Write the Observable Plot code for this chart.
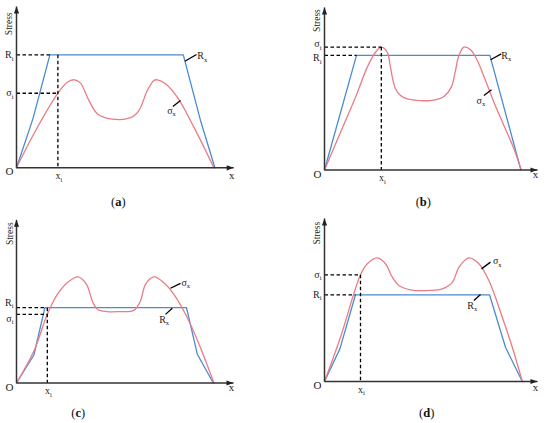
<!DOCTYPE html>
<html><head><meta charset="utf-8">
<script src="https://cdn.jsdelivr.net/npm/d3@7"></script>
<script src="https://cdn.jsdelivr.net/npm/@observablehq/plot@0.6"></script>
<style>
body{margin:0;background:#fff;}
#fig{position:relative;width:550px;height:423px;font-family:"Liberation Serif","DejaVu Serif",serif;color:#111;}
.panel{position:absolute;width:275px;height:211px;}
.cap{position:absolute;font-size:12.5px;transform:translate(-50%,-50%);white-space:nowrap;}
</style></head><body><div id="fig"></div>
<script>
// ---- data (arbitrary units: x = position along member, y = stress) ----
const panelNames = ["a", "b", "c", "d"];
// R_x (blue) resistance curves
const blueA = [[0,0],[8.2,30.6],[16.7,70.6],[83.4,70.6],[92,29.6],[99.2,0]];
const blueB = [[0,0],[16,71.6],[82.7,71.6],[98.2,0]];
const blueC = [[0,0],[8.7,17.5],[14.2,47.1],[85,47.1],[90.4,18],[98.4,0]];
const blueD = [[0,0],[7.7,20.4],[15.5,54.2],[82.5,54.2],[90.5,21.4],[98.9,0]];
// sigma_x (red) stress curves
const redA = [[0,0],[8.7,21.3],[20.7,46.6],[25.4,53.5],[29,55],[32,52.9],[36.2,42.1],[40.4,33.8],[47,30.6],[57,31.3],[61.2,35.8],[65.4,48.3],[68.7,54.6],[70.4,55],[74.5,52.5],[80.4,44.1],[88.7,25.4],[98.7,0]];
const redB = [[0,0],[8.4,24.7],[15.5,45.5],[21.4,64.3],[25.5,73.6],[28.4,76.8],[31.4,73.6],[32.7,66.4],[33.9,58],[35.5,50.8],[38,46.6],[41.4,44.5],[48,43.4],[53,43.4],[57.2,44.5],[59.7,45.9],[63.4,51.8],[65.5,62.2],[67.2,71.6],[69.7,76.8],[73,75.1],[76.4,68.4],[80.5,55.9],[84.7,42.4],[89.7,27.8],[94.7,13.3],[98.4,0]];
const redC = [[0,0],[8.7,20],[15.4,42.9],[20.4,55.4],[25.4,62.7],[30.7,66.3],[35,61.7],[37.9,51.3],[40.4,46.1],[45.4,44.6],[51.2,44.6],[58.7,45.4],[62,51.3],[64.5,61.7],[68.7,66.3],[73.7,62.7],[78.7,55.4],[85.4,40.8],[92,22.1],[98.7,0]];
const redD = [[0,0],[8,27.7],[18,66.7],[21.4,73.6],[26.4,77.3],[30.5,73.6],[33.9,65.2],[37.2,60],[43,57.3],[53,56.9],[58.9,57.9],[63.9,62],[67.2,71.4],[72.2,77.3],[77.2,73.6],[82.2,63.1],[88.9,40.2],[93.9,21.4],[98.9,0]];
// reference levels R_i, sigma_i and location x_i
const Rlevels = [70.6, 71.6, 47.1, 54.2];
const sigmaLevels = [46.6, 76.8, 42.9, 66.7];
const xiValues = [20.7, 28.4, 15.4, 18];
// labels ("_" marks a subscript)
const labelR = "R_i", labelSigma = "\u03C3_i", labelXi = "x_i";
const labelRx = "R_x", labelSx = "\u03C3_x";
const yTitle = "Stress", xTitle = "x", originLabel = "O";
// annotation anchors (data units): [textX, textY, leaderX1, leaderY1, leaderX2, leaderY2]
const rxNotes = [[92.9,69.8,84.2,66.6,90,70.8],[90.9,71.6,83,68.9,88.4,72.6],[73.8,39.8,74.5,42.9,77.9,46.7],[73.9,47.5,74.7,50.6,78,54.4]];
const sxNotes = [[77.5,35.8,78.2,38.3,82,42.1],[78.2,43.4,79.7,46.6,83.5,50.1],[84.6,62.7,77,59.2,82,62.3],[86.4,75.2,78.5,70.4,83,74.6]];

// ---- layout ----
const BLUE = "#4a8cd0", RED = "#ea7c84";
const FONT = "Liberation Serif, DejaVu Serif, serif";
const cells = [[0,0],[275,0],[0,211],[275,211]];
const origins = [[16,167.3],[49,169.5],[16,171.5],[49,170]];
const axisEnds = [[108.6,100.8],[106.5,101.6],[108.5,102],[106.5,101.9]];
const stressPos = [[-3.8,90],[-3.7,93.4],[-3.4,93.3],[-3.7,92.7]];
const xLabelDy = [8,4,4,6];
const labelDy = [[0,0],[2.5,-3],[-5,4],[0,0]];
const capPos = [[118.3,201.7],[148.3,201.7],[78.3,201.7],[151.7,201.7]];
const blues = [blueA, blueB, blueC, blueD];
const reds = [redA, redB, redC, redD];

const upTri = {draw(c){c.moveTo(0,0);c.lineTo(-2.6,7);c.lineTo(2.6,7);c.closePath();}};
const rightTri = {draw(c){c.moveTo(0,0);c.lineTo(-7,-2.6);c.lineTo(-7,2.6);c.closePath();}};

function subscripts(svg) {
  const ns = "http://www.w3.org/2000/svg";
  svg.querySelectorAll("text").forEach(t => {
    const s = t.textContent;
    if (!s.includes("_")) return;
    const [base, sub] = s.split("_");
    while (t.firstChild) t.removeChild(t.firstChild);
    const tb = document.createElementNS(ns, "tspan");
    tb.textContent = base;
    const ts = document.createElementNS(ns, "tspan");
    ts.setAttribute("font-size", "6.5");
    ts.setAttribute("dy", "2.5");
    ts.textContent = sub;
    t.appendChild(tb);
    t.appendChild(ts);
  });
  return svg;
}

const fig = document.getElementById("fig");
panelNames.forEach((name, i) => {
  const [ox, oy] = origins[i];
  const [xmax, ymax] = axisEnds[i];
  const Ri = Rlevels[i], si = sigmaLevels[i], xi = xiValues[i];
  const corner = blues[i].find(d => d[1] >= Ri)[0];
  const dashed = [
    {x1: 0, y1: Ri, x2: corner, y2: Ri},
    {x1: 0, y1: si, x2: xi, y2: si},
    {x1: xi, y1: Math.max(Ri, si), x2: xi, y2: 0}
  ];
  const axes = [{x1: 0, y1: 0, x2: xmax, y2: 0}, {x1: 0, y1: 0, x2: 0, y2: ymax}];
  const rx = rxNotes[i], sx = sxNotes[i];
  const leaders = [{x1: rx[2], y1: rx[3], x2: rx[4], y2: rx[5]}, {x1: sx[2], y1: sx[3], x2: sx[4], y2: sx[5]}];
  const txt = {fill: "#222", fontSize: 10};
  const svg = Plot.plot({
    width: 275, height: 190,
    x: {domain: [0, 110], range: [ox, ox + 220], axis: null},
    y: {domain: [0, 100], range: [oy, oy - 160], axis: null},
    style: {fontFamily: FONT, fontSize: "10px", background: "transparent", overflow: "visible"},
    marks: [
      Plot.line(blues[i], {x: d => d[0], y: d => d[1], stroke: BLUE, strokeWidth: 1.3}),
      Plot.line(reds[i], {x: d => d[0], y: d => d[1], stroke: RED, strokeWidth: 1.3, curve: "catmull-rom"}),
      Plot.link(dashed, {x1: "x1", y1: "y1", x2: "x2", y2: "y2", stroke: "#000", strokeWidth: 1.3, strokeDasharray: "3.5,2.5"}),
      Plot.link(leaders, {x1: "x1", y1: "y1", x2: "x2", y2: "y2", stroke: "#000", strokeWidth: 1.3}),
      Plot.link(axes, {x1: "x1", y1: "y1", x2: "x2", y2: "y2", stroke: "#333", strokeWidth: 1.5}),
      Plot.dot([[xmax, 0]], {x: d => d[0], y: d => d[1], symbol: rightTri, fill: "#222", stroke: "none"}),
      Plot.dot([[0, ymax]], {x: d => d[0], y: d => d[1], symbol: upTri, fill: "#222", stroke: "none"}),
      Plot.text([labelR], {...txt, x: 0, y: Ri, text: d => d, textAnchor: "end", dx: -3, dy: labelDy[i][0]}),
      Plot.text([labelSigma], {...txt, x: 0, y: si, text: d => d, textAnchor: "end", dx: -3, dy: labelDy[i][1]}),
      Plot.text([yTitle], {...txt, x: stressPos[i][0], y: stressPos[i][1], text: d => d, rotate: -90, fontSize: 9.5}),
      Plot.text([originLabel], {...txt, x: 0, y: 0, text: d => d, dx: -7, dy: 4, fontSize: 11}),
      Plot.text([labelXi], {...txt, x: xi, y: 0, text: d => d, dy: 8, dx: 1}),
      Plot.text([xTitle], {...txt, x: xmax - 1, y: 0, text: d => d, dy: xLabelDy[i], fontSize: 11}),
      Plot.text([labelRx], {...txt, x: rx[0], y: rx[1], text: d => d}),
      Plot.text([labelSx], {...txt, x: sx[0], y: sx[1], text: d => d})
    ]
  });
  subscripts(svg);
  const div = document.createElement("div");
  div.className = "panel";
  div.style.left = cells[i][0] + "px";
  div.style.top = cells[i][1] + "px";
  div.appendChild(svg);
  const cap = document.createElement("div");
  cap.className = "cap";
  cap.style.left = capPos[i][0] + "px";
  cap.style.top = capPos[i][1] + "px";
  cap.innerHTML = "(<b>" + name + "</b>)";
  div.appendChild(cap);
  fig.appendChild(div);
});
</script></body></html>
